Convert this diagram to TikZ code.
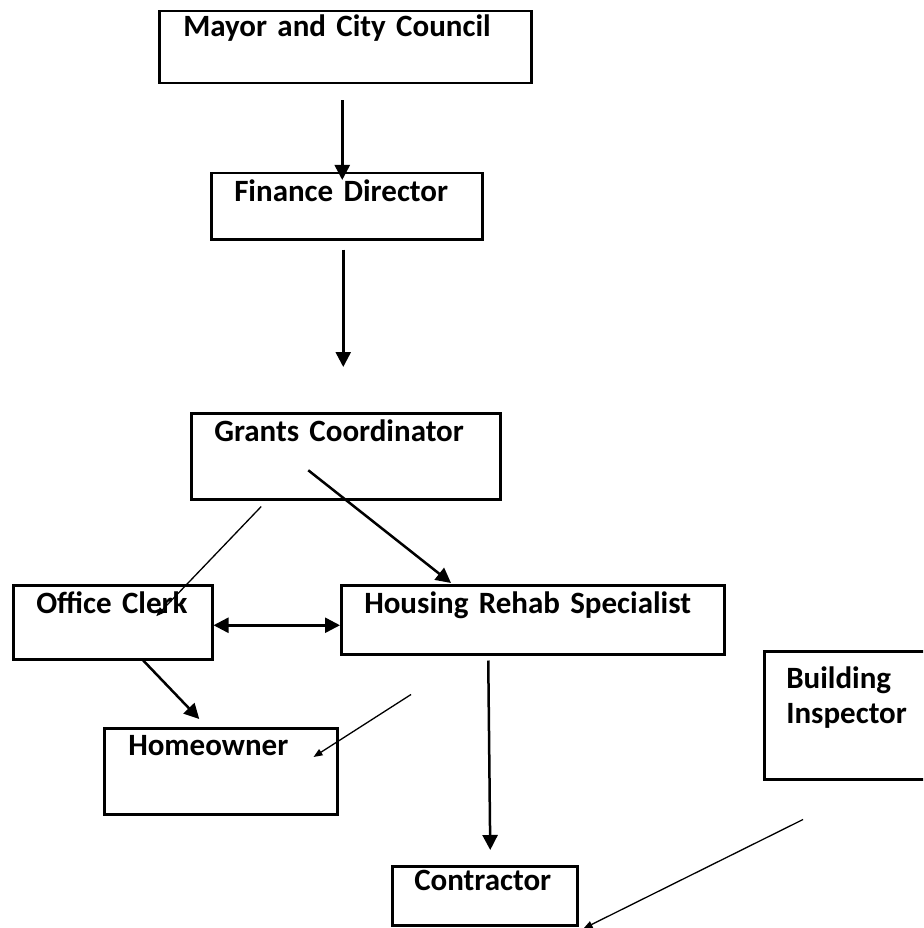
\documentclass[tikz,border=0pt]{standalone}
\usepackage{fontspec}
\setmainfont{Carlito}
\usetikzlibrary{arrows.meta}
\usetikzlibrary{calc}
\tikzset{
  orgbox/.style={draw, line width=2.5pt, anchor=north west, inner ysep=0pt, align=left, font=\bfseries\fontsize{31}{35}\selectfont},
  bigarrow/.style={line width=2.5pt, >={Triangle[length=15pt,width=15pt]}, ->},
  smallarrow/.style={line width=1.3pt, >={Triangle[length=9pt,width=7pt]}, ->}
}
\begin{document}
\begin{tikzpicture}[x=1pt, y=-1pt]
\clip (0,0) rectangle (923,928);
\node[orgbox, inner xsep=24pt, text width=324pt, text height=25pt, text depth=47pt] (mayor) at (158,10) {Mayor and City Council};
\node[orgbox, inner xsep=23pt, text width=225pt, text height=28pt, text depth=38pt] (finance) at (210,172) {Finance Director};
\node[orgbox, inner xsep=23pt, text width=263pt, text height=28pt, text depth=58pt] (grants) at (190,412) {Grants Coordinator};
\node[orgbox, inner xsep=23pt, text width=153pt, text height=28pt, text depth=46pt] (clerk) at (12,584) {\mbox{Office Clerk}};
\node[orgbox, inner xsep=23pt, text width=337pt, text height=28pt, text depth=41pt] (housing) at (340,584) {Housing Rehab Specialist};
\node[orgbox, inner xsep=24pt, text width=185pt, text height=27pt, text depth=59pt] (homeowner) at (103,727) {Homeowner};
\node[orgbox, inner xsep=22pt, text width=141pt, text height=24pt, text depth=35pt] (contractor) at (391,865) {\mbox{Contractor}};
\node[orgbox, inner xsep=22pt, text width=156pt, text height=37pt, text depth=91pt] (building) at (763,650) {Building\\Inspector};

\draw[bigarrow] ([xshift=-3pt,yshift=-16pt]mayor.south) -- ([xshift=-4.5pt,yshift=-8pt]finance.north);
\draw[bigarrow] ([xshift=-3.5pt,yshift=-9pt]finance.south) -- ([xshift=-2.5pt,yshift=45pt]grants.north);
\draw[bigarrow] ([xshift=-37.5pt,yshift=-14pt]grants.center) -- ([xshift=111pt,yshift=1pt]housing.north west);
\draw[smallarrow] ([xshift=-84.5pt,yshift=-6pt]grants.south) -- ([xshift=43.5pt,yshift=6pt]clerk.center);
\draw[bigarrow, <->] ([yshift=-3pt]clerk.east) -- ([yshift=-5.5pt]housing.west);
\draw[bigarrow] ([xshift=30.5pt]clerk.south) -- ([xshift=-21.5pt,yshift=8pt]homeowner.north);
\draw[bigarrow] ([xshift=-44.5pt,yshift=-5pt]housing.south) -- ([xshift=5.5pt,yshift=15pt]contractor.north);
\draw[smallarrow] ([xshift=71pt,yshift=-39pt]housing.south west) -- ([xshift=-25pt,yshift=-30pt]homeowner.north east);
\draw[smallarrow] ([xshift=40pt,yshift=-39pt]building.south west) -- ([xshift=5pt,yshift=-2pt]contractor.south east);
\end{tikzpicture}
\end{document}
